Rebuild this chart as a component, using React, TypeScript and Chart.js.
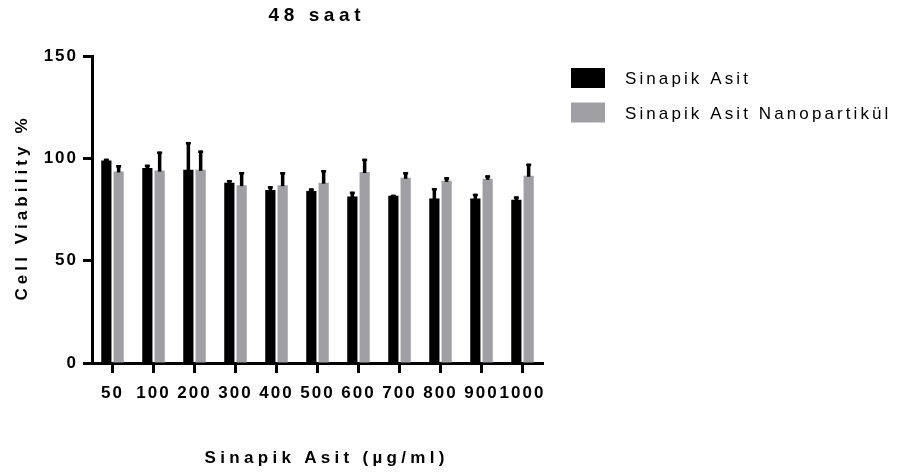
import React, { useEffect, useRef } from "react";
import { Chart, registerables } from "chart.js";

Chart.register(...registerables);

const chartTitle = "48 saat";
const xAxisTitle = "Sinapik Asit (µg/ml)";
const yAxisTitle = "Cell Viability %";
const categories = ["50", "100", "200", "300", "400", "500", "600", "700", "800", "900", "1000"];
const seriesNames = ["Sinapik Asit", "Sinapik Asit Nanopartikül"];
const seriesColors = ["#000000", "#a09fa4"];
const sinapikAsit = [99.0, 95.3, 94.4, 88.1, 84.5, 84.0, 81.4, 81.7, 80.4, 80.4, 79.8];
const sinapikAsitErr = [0.8, 1.6, 13.6, 1.3, 1.9, 1.3, 2.3, 0.5, 5.1, 2.3, 1.6];
const nanopartikul = [93.6, 94.0, 94.4, 86.9, 86.9, 88.1, 93.3, 90.5, 89.0, 90.0, 91.5];
const nanopartikulErr = [3.1, 9.3, 9.4, 6.4, 6.4, 6.2, 6.5, 2.8, 1.8, 1.7, 5.9];
const yMin = 0;
const yMax = 150;
const yStep = 50;

const FONT = "'Liberation Sans', Arial, sans-serif";

function drawSpaced(
  ctx: CanvasRenderingContext2D,
  text: string,
  cx: number,
  baseline: number,
  font: string,
  spacing: number,
  align: "center" | "left" = "center",
  rotate = false
) {
  ctx.save();
  ctx.font = font;
  (ctx as any).letterSpacing = spacing + "px";
  ctx.fillStyle = "#000";
  ctx.textBaseline = "alphabetic";
  ctx.textAlign = "left";
  const w = ctx.measureText(text).width - spacing;
  if (rotate) {
    ctx.translate(baseline, cx);
    ctx.rotate(-Math.PI / 2);
    ctx.fillText(text, -w / 2, 0);
  } else {
    const x = align === "center" ? cx - w / 2 : cx;
    ctx.fillText(text, x, baseline);
  }
  ctx.restore();
}

const overlayPlugin = {
  id: "overlay",
  beforeDraw(chart: any) {
    (chart.ctx as any).letterSpacing = "2px";
  },
  afterDatasetsDraw(chart: any) {
    const ctx: CanvasRenderingContext2D = chart.ctx;
    const yScale = chart.scales.y;
    chart.data.datasets.forEach((ds: any, i: number) => {
      const meta = chart.getDatasetMeta(i);
      meta.data.forEach((bar: any, j: number) => {
        const v = ds.data[j];
        const e = ds.errors[j];
        const yTop = yScale.getPixelForValue(v + e);
        const yBar = bar.y;
        ctx.save();
        ctx.fillStyle = "#000";
        ctx.fillRect(bar.x - 1.75, yTop, 3.5, yBar - yTop + 1);
        ctx.fillRect(bar.x - 2.5, yTop, 5, 2.5);
        ctx.restore();
      });
    });
  },
  afterDraw(chart: any) {
    const ctx: CanvasRenderingContext2D = chart.ctx;
    const area = chart.chartArea;
    const cx = (area.left + area.right) / 2;
    drawSpaced(ctx, chartTitle, cx - 3, 21, `bold 19px ${FONT}`, 4.6);
    drawSpaced(ctx, xAxisTitle, cx + 7, 463, `bold 17px ${FONT}`, 4.3);
    drawSpaced(ctx, yAxisTitle, (area.top + area.bottom) / 2, 27, `bold 17px ${FONT}`, 4.1, "center", true);
    // legend
    const legendX = 571;
    const rows = [78, 112.5];
    chart.data.datasets.forEach((ds: any, i: number) => {
      const cy = rows[i];
      ctx.save();
      ctx.fillStyle = ds.backgroundColor;
      ctx.fillRect(legendX, cy - 10, 34, 20);
      ctx.restore();
      drawSpaced(ctx, ds.label, 625, cy + 6, `17px ${FONT}`, 3.1, "left");
    });
  },
};

export default function App() {
  const canvasRef = useRef<HTMLCanvasElement | null>(null);

  useEffect(() => {
    document.body.style.margin = "0";
    const canvas = canvasRef.current;
    if (!canvas) return;
    const chart = new Chart(canvas, {
      type: "bar",
      data: {
        labels: categories,
        datasets: [
          {
            label: seriesNames[0],
            data: sinapikAsit,
            errors: sinapikAsitErr,
            backgroundColor: seriesColors[0],
            borderWidth: 0,
            categoryPercentage: 0.6,
            barPercentage: 0.83,
          } as any,
          {
            label: seriesNames[1],
            data: nanopartikul,
            errors: nanopartikulErr,
            backgroundColor: seriesColors[1],
            borderWidth: 0,
            categoryPercentage: 0.6,
            barPercentage: 0.83,
          } as any,
        ],
      },
      options: {
        responsive: false,
        animation: false,
        devicePixelRatio: 1,
        layout: { padding: { top: 56, left: 0, right: 356, bottom: 0 } },
        plugins: {
          legend: { display: false },
          title: { display: false },
          tooltip: { enabled: false },
        },
        scales: {
          x: {
            afterFit: (scale: any) => {
              scale.height = 111;
            },
            grid: {
              offset: false,
              drawOnChartArea: false,
              drawTicks: true,
              tickLength: 10,
              tickWidth: 3,
              tickColor: "#000",
              color: "#000",
            },
            border: { display: true, color: "#000", width: 3 },
            ticks: {
              autoSkip: false,
              maxRotation: 0,
              minRotation: 0,
              padding: 10,
              color: "#000",
              font: { family: FONT, size: 17, weight: "bold" },
            },
          },
          y: {
            min: yMin,
            max: yMax,
            afterFit: (scale: any) => {
              scale.width = 92;
            },
            grid: {
              drawOnChartArea: false,
              drawTicks: true,
              tickLength: 9,
              tickWidth: 3,
              tickColor: "#000",
              color: "#000",
            },
            border: { display: true, color: "#000", width: 3 },
            ticks: {
              stepSize: yStep,
              padding: 5,
              color: "#000",
              font: { family: FONT, size: 17, weight: "bold" },
            },
          },
        },
      },
      plugins: [overlayPlugin],
    } as any);
    return () => chart.destroy();
  }, []);

  return (
    <div style={{ width: 899, height: 474 }}>
      <canvas ref={canvasRef} width={899} height={474} style={{ display: "block" }} />
    </div>
  );
}
